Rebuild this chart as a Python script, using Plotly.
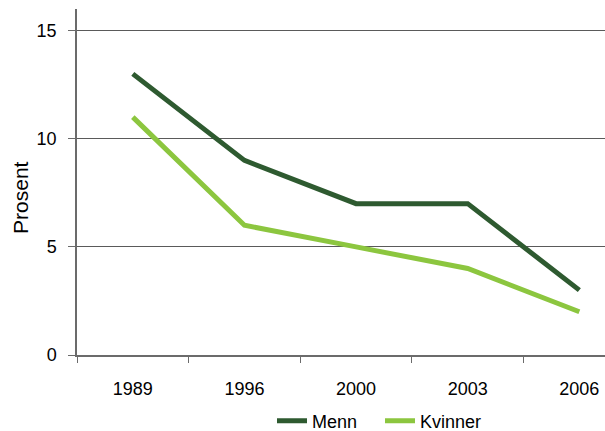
import plotly.graph_objects as go

years = ["1989", "1996", "2000", "2003", "2006"]
menn = [13, 9, 7, 7, 3]
kvinner = [11, 6, 5, 4, 2]

FONT = "Liberation Sans, Arial, sans-serif"
DARK = "#2e5a30"
LIGHT = "#8cc63f"

fig = go.Figure()
fig.add_trace(go.Scatter(x=years, y=menn, name="Menn", mode="lines",
                         line=dict(color=DARK, width=5)))
fig.add_trace(go.Scatter(x=years, y=kvinner, name="Kvinner", mode="lines",
                         line=dict(color=LIGHT, width=5)))

fig.update_layout(
    width=605, height=431,
    margin=dict(l=77, r=0, t=9, b=76, autoexpand=False),
    paper_bgcolor="white", plot_bgcolor="white",
    font=dict(family=FONT, size=18, color="black"),
    showlegend=True,
    legend=dict(orientation="h", xref="container", yref="container",
                x=272 / 605, xanchor="left", y=10 / 431, yanchor="middle",
                font=dict(size=18), entrywidth=63, entrywidthmode="pixels",
                tracegroupgap=0, bgcolor="rgba(0,0,0,0)"),
    xaxis=dict(type="category", range=[-0.5, 4.23], showline=True,
               linecolor="#6b6b6b", linewidth=1.5, ticks="outside",
               tickson="boundaries", ticklen=6, tickcolor="#6b6b6b",
               showgrid=False, zeroline=False, ticklabelstandoff=17),
    yaxis=dict(range=[0, 16], tickvals=[0, 5, 10, 15], showline=True,
               linecolor="#6b6b6b", linewidth=1.5, ticks="outside",
               ticklen=7, tickcolor="#6b6b6b", showgrid=True,
               gridcolor="#5a5a5a", gridwidth=1.2, zeroline=False,
               ticklabelstandoff=8),
)
fig.add_annotation(text="Prosent", textangle=-90, xref="paper", yref="paper",
                   x=-0.108, y=(355 - 197) / 346, xanchor="center", yanchor="middle",
                   showarrow=False, font=dict(size=21))

fig.write_html("out.html")
